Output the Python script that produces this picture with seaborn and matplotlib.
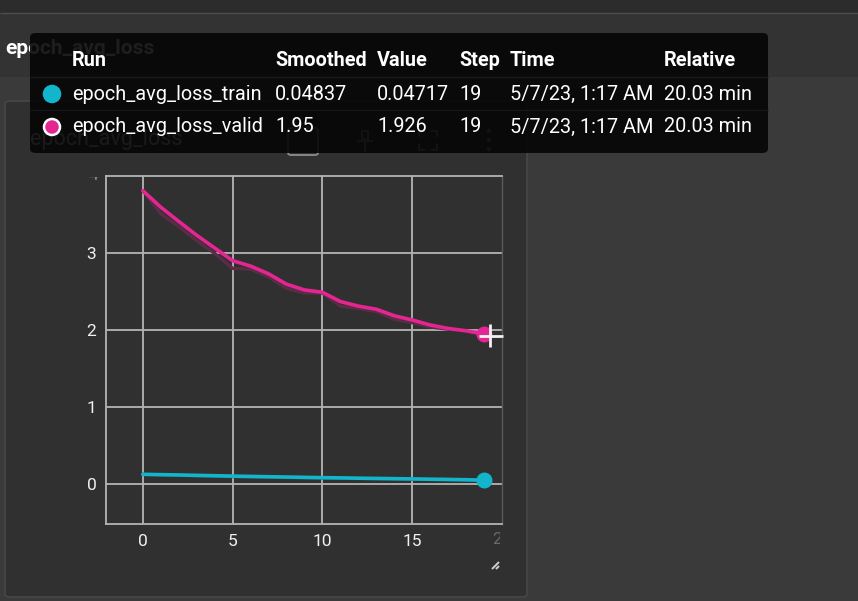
import matplotlib
matplotlib.use("Agg")
import matplotlib.pyplot as plt
import seaborn as sns
import pandas as pd
from matplotlib.patches import FancyBboxPatch, Ellipse
from matplotlib.lines import Line2D
from matplotlib.transforms import Bbox, TransformedBbox

# values
steps = list(range(20))
valid_raw = [3.81, 3.51, 3.345, 3.16, 2.995, 2.80, 2.79, 2.69, 2.54, 2.48,
             2.48, 2.31, 2.28, 2.24, 2.14, 2.095, 2.04, 2.01, 1.985, 1.926]
valid_smooth = [3.81, 3.595, 3.41, 3.23, 3.065, 2.90, 2.83, 2.73, 2.595, 2.52,
                2.49, 2.37, 2.31, 2.27, 2.185, 2.13, 2.065, 2.02, 1.99, 1.95]
train_raw = [0.125, 0.118, 0.112, 0.106, 0.101, 0.096, 0.092, 0.088, 0.084, 0.080,
             0.077, 0.074, 0.071, 0.068, 0.065, 0.062, 0.058, 0.055, 0.051, 0.04717]
train_smooth = [0.125, 0.121, 0.117, 0.112, 0.107, 0.102, 0.098, 0.094, 0.090, 0.086,
                0.082, 0.079, 0.075, 0.072, 0.069, 0.066, 0.062, 0.059, 0.055, 0.04837]

runs = ["epoch_avg_loss_train", "epoch_avg_loss_valid"]
smoothed_txt = ["0.04837", "1.95"]
value_txt = ["0.04717", "1.926"]
step_txt = ["19", "19"]
time_txt = ["5/7/23, 1:17 AM", "5/7/23, 1:17 AM"]
rel_txt = ["20.03 min", "20.03 min"]

PINK = "#e52592"
TEAL = "#12b5cb"
ICON = "#8c8c8c"

W, H = 858, 601

sns.set_theme(style="dark")
plt.rcParams["font.family"] = ["Roboto", "DejaVu Sans"]

fig = plt.figure(figsize=(W / 100, H / 100), dpi=100)
fig.patch.set_facecolor("#3a3a3a")


def fx(x):
    return x / W


def fy(y):
    return 1 - y / H


def box(x0, y0, x1, y1, fc, ec="none", lw=0, r=0, z=0, alpha=1.0):
    p = FancyBboxPatch((fx(x0), fy(y1)), fx(x1) - fx(x0), fy(y0) - fy(y1),
                       boxstyle=f"round,pad=0,rounding_size={r / W}",
                       transform=fig.transFigure, fc=fc, ec=ec, lw=lw,
                       zorder=z, alpha=alpha)
    fig.patches.append(p)


def seg(xs, ys, c, lw=1, z=1):
    fig.lines.append(Line2D([fx(x) for x in xs], [fy(y) for y in ys], color=c,
                            lw=lw, transform=fig.transFigure, zorder=z,
                            solid_capstyle="butt"))


def dot(x, y, r, fc, ec="none", lw=0, z=1):
    fig.patches.append(Ellipse((fx(x), fy(y)), 2 * r / W, 2 * r / H, fc=fc,
                               ec=ec, lw=lw, transform=fig.transFigure, zorder=z))


# page chrome
box(0, 0, W, 13, "#2c2c2c", z=-5)
box(0, 13, W, 77, "#333333", z=-5)
seg([0, W], [13, 13], "#4e4e4e", lw=1, z=-4)
fig.text(fx(5), fy(48), "epoch_avg_loss", color="white", fontsize=15,
         fontweight="bold", va="center", zorder=-3)

# card
box(5, 101, 527, 597, "#303030", ec="#4a4a4a", lw=1, r=5, z=-4)
fig.text(fx(30), fy(140), "epoch_avg_loss", color="#dcdcdc", fontsize=15.5,
         va="center", zorder=-3)
# card toolbar icons (mostly hidden under the tooltip)
box(288, 128, 318, 155, "none", ec=ICON, lw=1.3, r=3, z=-3)
seg([361, 369], [131, 131], ICON, lw=1.5, z=-3)
seg([362, 362, 368, 368], [131, 139, 139, 131], ICON, lw=1.5, z=-3)
seg([357, 373], [141, 141], ICON, lw=1.5, z=-3)
seg([365, 365], [141, 152], ICON, lw=1.5, z=-3)
for cx, cy, dx, dy in [(419, 131, 1, 1), (437, 131, -1, 1), (419, 150, 1, -1), (437, 150, -1, -1)]:
    seg([cx + 6 * dx, cx, cx], [cy, cy, cy + 6 * dy], ICON, lw=1.5, z=-3)
for cy in [131, 140, 149]:
    dot(489, cy, 2.3, ICON, z=-3)

# chart
ax = fig.add_axes([fx(106), fy(524), fx(502) - fx(106), fy(176) - fy(524)])
ax.set_facecolor("#303030")

df = pd.DataFrame({
    "step": steps * 4,
    "loss": valid_raw + train_raw + valid_smooth + train_smooth,
    "series": (["valid_raw"] * 20 + ["train_raw"] * 20
               + ["valid_smooth"] * 20 + ["train_smooth"] * 20),
})
pal = {"valid_raw": "#5a2d47", "train_raw": "#1f5a63",
       "valid_smooth": PINK, "train_smooth": TEAL}
sns.lineplot(data=df[df.series.str.endswith("raw")], x="step", y="loss",
             hue="series", palette=pal, lw=2.4, ax=ax, legend=False)
sns.lineplot(data=df[df.series.str.endswith("smooth")], x="step", y="loss",
             hue="series", palette=pal, lw=2.6, ax=ax, legend=False)
ax.scatter([steps[-1]], [valid_smooth[-1]], s=110, color=PINK, zorder=5)
ax.scatter([steps[-1]], [train_smooth[-1]], s=110, color=TEAL, zorder=5)

ax.set_xlim(-2.05, 20)
ax.set_ylim(-0.52, 4.0)
ax.set_xticks([0, 5, 10, 15])
ax.set_yticks([0, 1, 2, 3])
ax.grid(True, color="#b4b4b4", lw=1.3)
ax.set_axisbelow(True)
ax.tick_params(length=0, colors="#f0f0f0", labelsize=12.5, pad=7)
ax.set_xlabel("")
ax.set_ylabel("")
for side in ["left", "top", "bottom"]:
    ax.spines[side].set_visible(True)
    ax.spines[side].set_color("#b4b4b4")
    ax.spines[side].set_linewidth(1.3)
ax.spines["right"].set_visible(True)
ax.spines["right"].set_color("#5a5a5a")
ax.spines["right"].set_linewidth(1)

# clipped edge tick labels
t4 = fig.text(fx(93), fy(176), "4", color="#8a8a8a", fontsize=12.5,
              ha="center", va="center")
t4.set_clip_box(TransformedBbox(Bbox([[0, 0], [1, fy(177)]]), fig.transFigure))
t4.set_clip_on(True)
t20 = fig.text(fx(502), fy(539), "20", color="#6a6a6a", fontsize=12.5,
               ha="center", va="center")
t20.set_clip_box(TransformedBbox(Bbox([[0, 0], [fx(500), 1]]), fig.transFigure))
t20.set_clip_on(True)

# crosshair cursor and resize grip
seg([490, 490], [324, 347], "#f2f2f2", lw=2, z=10)
seg([479, 503], [336, 336], "#f2f2f2", lw=2, z=10)
seg([481, 489], [336.5, 336.5], "#2fc39a", lw=1.5, z=9)
seg([492, 499], [569, 562], "#d0d0d0", lw=1.4, z=1)
seg([496, 499], [569, 566], "#d0d0d0", lw=1.4, z=1)

# hover tooltip
box(30, 33, 768, 153, "#050505", r=6, z=20, alpha=0.9)
seg([30, 768], [77, 77], "#1a1a1a", lw=1, z=21)
seg([30, 768], [110, 110], "#161616", lw=1, z=21)

cols_x = [72, 275, 377, 459, 510, 664]
headers = ["Run", "Smoothed", "Value", "Step", "Time", "Relative"]
for x, h in zip(cols_x, headers):
    fig.text(fx(x), fy(61), h, color="white", fontsize=14.3, fontweight="bold",
             va="center", zorder=22)

rows_y = [94, 127]
dot_colors = [TEAL, PINK]
for i, y in enumerate(rows_y):
    ec = "white" if i == 1 else dot_colors[i]
    dot(52, y, 8, dot_colors[i], ec=ec, lw=1.8, z=22)
    vals = [runs[i], smoothed_txt[i], value_txt[i], step_txt[i], time_txt[i], rel_txt[i]]
    for x, v in zip(cols_x, vals):
        fig.text(fx(x), fy(y), v, color="white", fontsize=14.3, va="center",
                 zorder=22)

fig.savefig("out.png", dpi=100, facecolor=fig.get_facecolor())
